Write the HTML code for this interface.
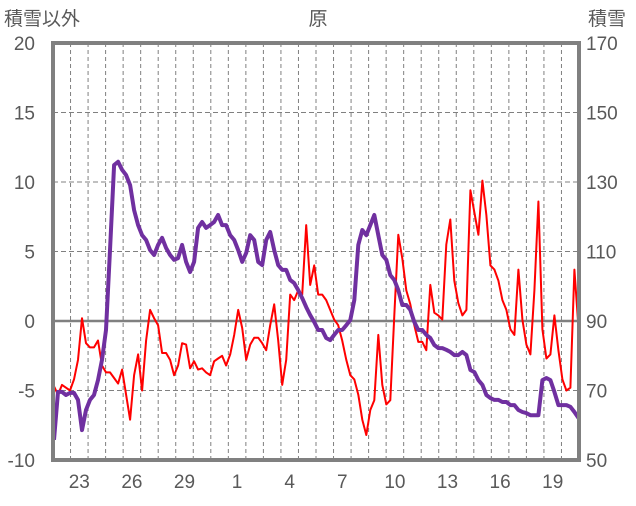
<!DOCTYPE html>
<html><head><meta charset="utf-8"><style>
body{margin:0;background:#fff;}
svg text{font-family:"Liberation Sans","Noto Sans CJK JP",sans-serif;fill:#595959;}
</style></head><body>
<svg id="chart" width="636" height="501" viewBox="0 0 636 501" xmlns="http://www.w3.org/2000/svg">
<text x="4" y="25" font-size="19">積雪以外</text>
<text x="318" y="25" font-size="19" text-anchor="middle">原</text>
<text x="588" y="25" font-size="19">積雪</text>
<g id="grid"></g>
<g id="series"></g>
<g id="frame"></g>
<g id="labels"></g>
</svg>
<script>
const leftTicks = [-10,-5,0,5,10,15,20];
const rightTicks = [50,70,90,110,130,150,170];
const dayLabels = ["23","26","29","1","4","7","10","13","16","19"];
const dayLabelIndex = [1,4,7,10,13,16,19,22,25,28];
const numDays = 30;
const startHour = 1.37;
const stepHours = 5.48;
const otherValues = [-4.7,-5.3,-4.6,-4.8,-5.0,-4.2,-2.8,0.2,-1.6,-1.9,-1.9,-1.4,-3.2,-3.7,-3.7,-4.1,-4.5,-3.5,-5.3,-7.1,-3.9,-2.4,-5.0,-1.4,0.8,0.2,-0.3,-2.3,-2.3,-2.8,-3.9,-3.2,-1.6,-1.7,-3.4,-2.9,-3.5,-3.4,-3.7,-3.9,-2.9,-2.7,-2.5,-3.2,-2.4,-1.0,0.8,-0.5,-2.8,-1.7,-1.2,-1.2,-1.6,-2.1,-0.3,1.2,-1.4,-4.6,-2.8,1.9,1.5,2.2,1.9,6.9,2.6,4.0,1.9,1.9,1.5,0.8,0.1,-0.3,-1.4,-2.8,-3.9,-4.2,-5.3,-7.1,-8.2,-6.4,-5.7,-1.0,-4.6,-6.0,-5.7,0.4,6.2,4.5,2.2,1.2,-0.3,-1.5,-1.5,-2.1,2.6,0.6,0.4,0.1,5.5,7.3,2.9,1.3,0.4,0.8,9.4,7.8,6.2,10.1,7.6,4.0,3.7,2.9,1.5,0.8,-0.6,-1.0,3.7,0.1,-1.7,-2.4,2.2,8.6,-0.6,-2.7,-2.4,0.4,-2.1,-4.2,-5.0,-4.8,3.7,-0.5];
const snowValues = [55.8,69.6,69.6,68.7,69.3,69.3,67.3,58.6,64.4,67.3,68.7,73,78.8,87.4,110.4,134.9,135.8,133.5,132,129.1,121.9,117.6,114.7,113.3,110.4,109,111.9,113.9,111,109,107.6,108.1,111.9,107,104.1,107,116.8,118.5,116.8,117.6,118.5,120.5,117.6,117.6,114.7,113.3,110.4,107,109.6,114.7,113.3,107,106.1,113.3,115.6,110.4,106.1,104.7,104.7,101.8,100.9,98.9,96.6,94,91.7,89.7,87.4,87.4,85.1,84.5,86,87.4,87.4,88.8,90.3,96,111.9,116.2,114.7,117.6,120.5,114.7,109,107.6,103.2,101.8,98.9,94.6,94.6,93.2,89.7,87.4,87.4,86,85.1,83.1,82.2,82.2,81.7,81.1,80.2,80.2,81.1,80.2,75.9,75.3,73,71.6,68.7,67.8,67.3,67.3,66.7,66.7,65.8,65.8,64.4,63.8,63.5,62.9,62.9,62.9,73,73.6,73,69.6,65.8,65.8,65.8,65.3,63.8,62.1];

const L=53,R=579,T=43,B=460;
const NS="http://www.w3.org/2000/svg";
const xScale=h=>L+(h/24)/numDays*(R-L);
const yLeft=v=>B-(v+10)/30*(B-T);
const yRight=v=>B-(v-50)/120*(B-T);
function mk(tag,attrs,parent){const e=document.createElementNS(NS,tag);for(const k in attrs)e.setAttribute(k,attrs[k]);parent.appendChild(e);return e;}
const grid=document.getElementById('grid');
for(let d=1;d<numDays;d++){const x=xScale(d*24);
const g=mk('line',{x1:x,x2:x,y1:T,y2:B,stroke:'#808080','stroke-width':1,'stroke-dasharray':'4,3'},grid);

}
leftTicks.forEach(v=>{if(v===0||v===-10||v===20)return;const y=yLeft(v);
const g=mk('line',{x1:L,x2:R,y1:y,y2:y,stroke:'#808080','stroke-width':1,'stroke-dasharray':'5,3'},grid);

});
const z=mk('line',{x1:L,x2:R,y1:yLeft(0),y2:yLeft(0),stroke:'#808080','stroke-width':2.5},grid);


const ser=document.getElementById('series');
const pts=(arr,ys)=>arr.map((v,i)=>xScale(startHour+i*stepHours).toFixed(1)+','+ys(v).toFixed(1)).join(' ');
const red=mk('polyline',{points:pts(otherValues,yLeft),fill:'none',stroke:'#ff0000','stroke-width':2,'stroke-linejoin':'round'},ser);


const pur=mk('polyline',{points:pts(snowValues,yRight),fill:'none',stroke:'#7030a0','stroke-width':4,'stroke-linejoin':'round'},ser);


const fr=mk('rect',{x:L,y:T,width:R-L,height:B-T,fill:'none',stroke:'#808080','stroke-width':4},document.getElementById('frame'));


const lab=document.getElementById('labels');
leftTicks.forEach(v=>{const t=mk('text',{x:35,y:yLeft(v)+7,'font-size':19,'text-anchor':'end'},lab);t.textContent=v;

});
rightTicks.forEach(v=>{const t=mk('text',{x:586,y:yRight(v)+7,'font-size':19},lab);t.textContent=v;

});
dayLabels.forEach((s,i)=>{const t=mk('text',{x:xScale((dayLabelIndex[i]+0.5)*24),y:488,'font-size':19,'text-anchor':'middle'},lab);t.textContent=s;

});
</script>
</body></html>
